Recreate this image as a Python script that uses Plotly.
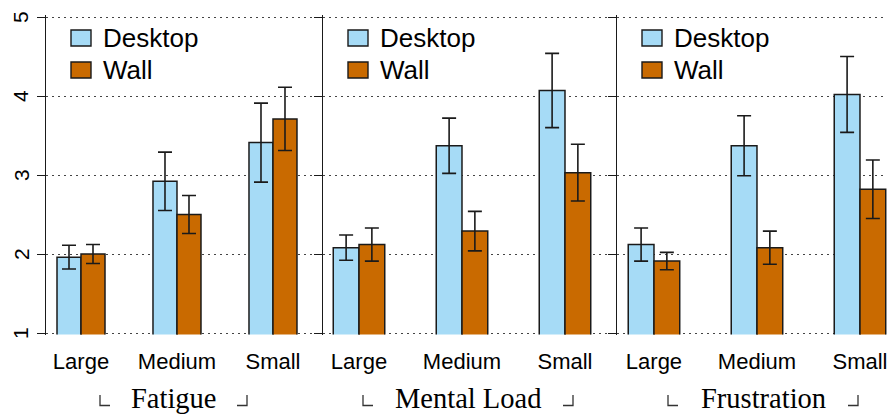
import plotly.graph_objects as go

# categories
sizes = ["Large", "Medium", "Small"]
panel_titles = ["Fatigue", "Mental Load", "Frustration"]

# means and error half-widths
fatigue_desktop = [1.96, 2.92, 3.41]
fatigue_desktop_err = [0.15, 0.37, 0.50]
fatigue_wall = [2.00, 2.50, 3.71]
fatigue_wall_err = [0.12, 0.24, 0.40]

mental_desktop = [2.08, 3.37, 4.07]
mental_desktop_err = [0.16, 0.35, 0.47]
mental_wall = [2.12, 2.29, 3.03]
mental_wall_err = [0.21, 0.25, 0.36]

frustration_desktop = [2.12, 3.37, 4.02]
frustration_desktop_err = [0.21, 0.38, 0.48]
frustration_wall = [1.91, 2.08, 2.82]
frustration_wall_err = [0.11, 0.21, 0.37]

y_ticks = [1, 2, 3, 4, 5]

# the page body adds an 8px margin, so the figure is 8px smaller each way
OFF = 8
W, H = 895 - OFF, 414 - OFF
DESKTOP = "#a6dbf6"
WALL = "#c96a00"
INK = "#1a1a1a"
SANS = "Liberation Sans, Arial, Helvetica, sans-serif"
SERIF = "Liberation Serif, DejaVu Serif, serif"

# y range padded a hair so plotly keeps the dotted grid at 1 and 5
Y_PAD = 0.02
PX_PER_UNIT = (333 - 17) / 4


def fx(p):
    # screen pixel -> paper x
    return (p - OFF) / W


def fy(p):
    # screen pixel -> paper y
    return 1 - (p - OFF) / H


# pixel layout of each panel: left axis, right edge, x range, label spots
panels = [
    dict(left=46, right=323, rng=[-0.3646, 2.521], label_x=174, c_left=100, c_right=247),
    dict(left=323, right=617, rng=[-0.3495, 2.505], label_x=468, c_left=363, c_right=573),
    dict(left=617, right=895, rng=[-0.359, 2.340], label_x=763, c_left=668, c_right=858),
]

series = [
    (fatigue_desktop, fatigue_desktop_err, fatigue_wall, fatigue_wall_err),
    (mental_desktop, mental_desktop_err, mental_wall, mental_wall_err),
    (frustration_desktop, frustration_desktop_err, frustration_wall, frustration_wall_err),
]

fig = go.Figure()

for i, (d, de, w, we) in enumerate(series):
    suffix = "" if i == 0 else str(i + 1)
    for vals, errs, col, name in [(d, de, DESKTOP, "Desktop"), (w, we, WALL, "Wall")]:
        fig.add_trace(go.Bar(
            x=sizes, y=vals, name=name,
            xaxis="x" + suffix, yaxis="y" + suffix,
            marker=dict(color=col, line=dict(color=INK, width=1.5)),
            error_y=dict(type="data", array=errs, color=INK, thickness=1.6, width=7),
            showlegend=False,
        ))

layout = dict(
    width=W, height=H,
    margin=dict(l=0, r=0, t=0, b=0, autoexpand=False),
    paper_bgcolor="white", plot_bgcolor="white",
    barmode="group", bargap=0.5, bargroupgap=0,
    font=dict(family=SANS, color="black"),
    showlegend=False,
    shapes=[], annotations=[],
)

pad_px = Y_PAD * PX_PER_UNIT

for i, p in enumerate(panels):
    suffix = "" if i == 0 else str(i + 1)
    layout["xaxis" + suffix] = dict(
        domain=[fx(p["left"]), min(1, fx(p["right"]))],
        anchor="y" + suffix, type="category", range=p["rng"],
        showline=False, showgrid=False, ticks="", zeroline=False,
        tickfont=dict(size=22, family=SANS, color="black"),
        ticklabelstandoff=11, fixedrange=True, automargin=False,
    )
    layout["yaxis" + suffix] = dict(
        domain=[fy(333 + pad_px), fy(17 - pad_px)], anchor="x" + suffix,
        range=[1 - Y_PAD, 5 + Y_PAD], tickvals=y_ticks, ticks="outside", ticklen=8,
        tickwidth=1.4, tickcolor=INK, showline=True, linecolor=INK, linewidth=1.4,
        showgrid=True, gridcolor="#444444", gridwidth=1, griddash="2px,4px",
        zeroline=False, showticklabels=False,
        fixedrange=True, automargin=False,
    )

    ax = p["left"]
    for (y0, y1, col, name) in [(30, 46, DESKTOP, "Desktop"), (62, 78, WALL, "Wall")]:
        layout["shapes"].append(dict(
            type="rect", xref="paper", yref="paper",
            x0=fx(ax + 25), x1=fx(ax + 45), y0=fy(y1), y1=fy(y0),
            fillcolor=col, line=dict(color=INK, width=1.4),
        ))
        layout["annotations"].append(dict(
            text=name, xref="paper", yref="paper",
            x=fx(ax + 55), y=fy((y0 + y1) / 2), xanchor="left", yanchor="middle",
            showarrow=False, font=dict(size=26, family=SANS, color="black"),
        ))

    # facet label under each panel, framed by thin corner marks
    layout["annotations"].append(dict(
        text=panel_titles[i],
        xref="paper", yref="paper", x=fx(p["label_x"]), y=fy(398),
        xanchor="center", yanchor="middle", showarrow=False,
        font=dict(size=28.5, family=SERIF, color="black"),
    ))
    cl, cr = p["c_left"], p["c_right"]
    for path in [
        "M %f,%f L %f,%f L %f,%f" % (fx(cl), fy(395), fx(cl), fy(405.5), fx(cl + 10), fy(405.5)),
        "M %f,%f L %f,%f L %f,%f" % (fx(cr - 10), fy(405.5), fx(cr), fy(405.5), fx(cr), fy(395)),
    ]:
        layout["shapes"].append(dict(
            type="path", xref="paper", yref="paper", path=path,
            line=dict(color="#333333", width=1.3),
        ))

# rotated y tick labels (R style), placed on the first panel's scale
for v in y_ticks:
    layout["annotations"].append(dict(
        text=str(v), xref="paper", yref="y", x=fx(21), y=v,
        xanchor="center", yanchor="middle", textangle=-90, showarrow=False,
        font=dict(size=21, family=SANS, color="black"),
    ))

fig.update_layout(**layout)
fig.write_html("out.html")
